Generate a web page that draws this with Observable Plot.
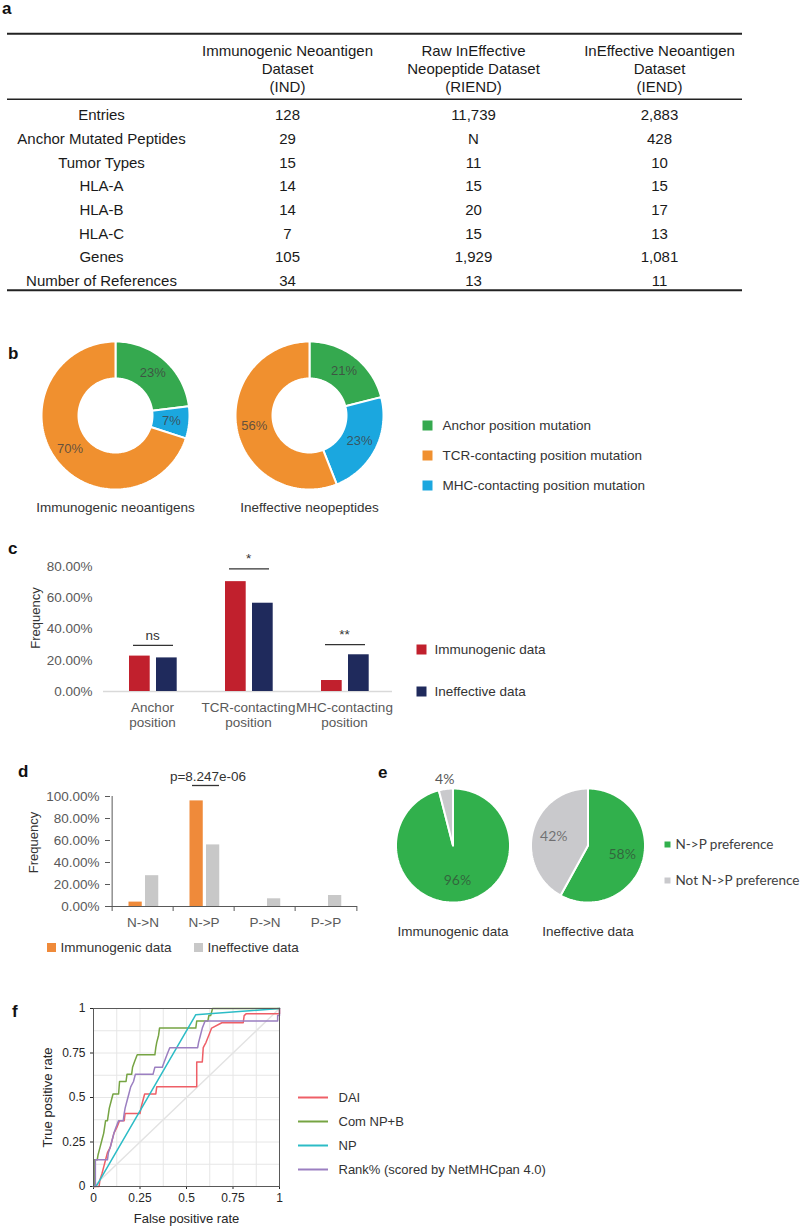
<!DOCTYPE html>
<html>
<head>
<meta charset="utf-8">
<script src="https://cdn.jsdelivr.net/npm/d3@7"></script>
<script src="https://cdn.jsdelivr.net/npm/@observablehq/plot@0.6"></script>
<style>
  html,body{margin:0;padding:0;background:#fff;}
  #root{position:relative;width:800px;height:1228px;overflow:hidden;background:#fff;}
  .letter{position:absolute;font-family:"Liberation Sans",Arial,sans-serif;font-weight:bold;font-size:17px;line-height:20px;color:#111;}
</style>
</head>
<body>
<div id="root"></div>
<script>
// ================= DATA =================
// (a) table
const tableColumns = ["Immunogenic Neoantigen\nDataset\n(IND)", "Raw InEffective\nNeopeptide Dataset\n(RIEND)", "InEffective Neoantigen\nDataset\n(IEND)"];
const tableRows = ["Entries","Anchor Mutated Peptides","Tumor Types","HLA-A","HLA-B","HLA-C","Genes","Number of References"];
const colIND   = ["128","29","15","14","14","7","105","34"];
const colRIEND = ["11,739","N","11","15","20","15","1,929","13"];
const colIEND  = ["2,883","428","10","15","17","13","1,081","11"];

// (b) donuts
const mutationTypes = ["Anchor position mutation","TCR-contacting position mutation","MHC-contacting position mutation"];
const mutationColors = ["#35a94f","#f0902f","#1ba7df"];
const donutDatasets = ["Immunogenic neoantigens","Ineffective neopeptides"];
const donutImmunogenic = [23, 70, 7];   // anchor, TCR, MHC
const donutIneffective = [21, 56, 23];
const donutOrder = [0, 2, 1];           // clockwise from 12 o'clock: anchor, MHC, TCR

// (c) grouped bars
const positionCats = ["Anchor\nposition","TCR-contacting\nposition","MHC-contacting\nposition"];
const cSeries = ["Immunogenic data","Ineffective data"];
const cColors = ["#c1202d","#1f2a5c"];
const freqImmunogenic = [0.2266, 0.7031, 0.0703];
const freqIneffective = [0.215, 0.565, 0.235];
const sigLabels = ["ns","*","**"];
const sigLevels = [0.295, 0.785, 0.30];
const yTicksC = [0, 0.2, 0.4, 0.6, 0.8];

// (d) transitions
const transitionCats = ["N->N","N->P","P->N","P->P"];
const dSeries = ["Immunogenic data","Ineffective data"];
const dColors = ["#ef8a3a","#c8c8c8"];
const transImmunogenic = [0.04, 0.96, 0, 0];
const transIneffective = [0.28, 0.56, 0.07, 0.10];
const pValueCat = "N->P";
const pValueText = "p=8.247e-06";
const pValueLevel = 1.10;
const yTicksD = [0, 0.2, 0.4, 0.6, 0.8, 1.0];

// (e) pies
const prefCats = ["N->P preference","Not N->P preference"];
const prefColors = ["#31b04c","#c9c9cc"];
const prefDatasets = ["Immunogenic data","Ineffective data"];
const prefImmunogenic = [96, 4];
const prefIneffective = [58, 42];

// (f) ROC
const rocModels = ["DAI","Com NP+B","NP","Rank% (scored by NetMHCpan 4.0)"];
const rocColors = ["#ee5f67","#76a443","#2cbcc6","#9b7fc1"];
const rocDAI = [[0,0],[0.03,0],[0.035,0.04],[0.045,0.07],[0.055,0.11],[0.065,0.15],[0.075,0.19],[0.09,0.22],[0.1,0.26],[0.11,0.3],[0.125,0.33],[0.14,0.37],[0.165,0.37],[0.17,0.41],[0.25,0.41],[0.255,0.44],[0.265,0.48],[0.275,0.52],[0.335,0.52],[0.34,0.56],[0.555,0.56],[0.555,0.7],[0.585,0.7],[0.59,0.78],[0.605,0.81],[0.62,0.85],[0.635,0.89],[0.69,0.92],[0.805,0.92],[0.81,0.96],[0.82,0.97],[1,0.97],[1,1]];
const rocComNPB = [[0,0],[0.005,0],[0.005,0.15],[0.02,0.15],[0.025,0.18],[0.035,0.22],[0.045,0.26],[0.055,0.3],[0.065,0.37],[0.075,0.37],[0.085,0.44],[0.095,0.48],[0.105,0.52],[0.135,0.52],[0.14,0.59],[0.175,0.59],[0.18,0.63],[0.205,0.63],[0.21,0.67],[0.22,0.7],[0.235,0.74],[0.33,0.74],[0.335,0.78],[0.34,0.81],[0.35,0.85],[0.355,0.89],[0.55,0.89],[0.555,0.93],[0.615,0.93],[0.62,0.96],[0.63,0.96],[0.64,1],[1,1]];
const rocNP = [[0,0],[0.02,0.01],[0.55,0.965],[1,1]];
const rocRank = [[0,0],[0.01,0],[0.01,0.15],[0.075,0.15],[0.08,0.19],[0.09,0.22],[0.1,0.26],[0.11,0.3],[0.12,0.33],[0.135,0.37],[0.16,0.37],[0.165,0.41],[0.17,0.44],[0.18,0.48],[0.19,0.52],[0.2,0.56],[0.215,0.59],[0.225,0.63],[0.32,0.63],[0.33,0.67],[0.37,0.67],[0.38,0.7],[0.395,0.74],[0.41,0.78],[0.56,0.78],[0.565,0.81],[0.575,0.85],[0.585,0.89],[0.6,0.93],[0.99,0.93],[0.99,0.96],[1,0.96],[1,1]];
const rocTicks = [0, 0.25, 0.5, 0.75, 1];
const rocGrid = [0.125, 0.25, 0.375, 0.5, 0.625, 0.75, 0.875];
const chanceLine = [[0,0],[1,1]];

// ================= HELPERS =================
const FN = '"Liberation Sans Narrow","Liberation Sans",Arial,sans-serif';
const FA = '"Liberation Sans",Arial,sans-serif';
const FC = 'Lato,"Open Sans",sans-serif';
const FS = 13.5; // general label size
const root = document.getElementById("root");
function put(node, left, top){ node.style.position="absolute"; node.style.left=left+"px"; node.style.top=top+"px"; node.style.maxWidth="none"; root.appendChild(node); }
function letter(t, x, y){ const d=document.createElement("div"); d.className="letter"; d.textContent=t; d.style.left=x+"px"; d.style.top=(y-11)+"px"; root.appendChild(d); }
function st(fontFamily, fontSize, color){ return {fontFamily, fontSize: fontSize+"px", color: color, background:"transparent", overflow:"visible", maxWidth:"none"}; }
const pct = d => (d*100).toFixed(2) + "%";

function pieGeometry(dataset, values, types, order, inner, labelR, outsideR, smallFrac){
  const total = d3.sum(values); let acc = 0; const poly = [], labels = [];
  for (const k of order) {
    const a0 = acc/total*2*Math.PI; acc += values[k]; const a1 = acc/total*2*Math.PI;
    const n = Math.max(2, Math.ceil((a1-a0)/(Math.PI/120)));
    const key = dataset + "|" + types[k];
    for (let j=0;j<=n;j++){ const a=a0+(a1-a0)*j/n; poly.push({dataset, type:types[k], key, x:Math.sin(a), y:Math.cos(a)}); }
    if (inner > 0) { for (let j=n;j>=0;j--){ const a=a0+(a1-a0)*j/n; poly.push({dataset, type:types[k], key, x:inner*Math.sin(a), y:inner*Math.cos(a)}); } }
    else poly.push({dataset, type:types[k], key, x:0, y:0});
    const am = (a0+a1)/2, frac = values[k]/total;
    const outside = inner === 0 && frac < smallFrac;
    const r = outside ? outsideR : labelR;
    labels.push({dataset, type:types[k], x:r*Math.sin(am), y:r*Math.cos(am), text: values[k]+"%", outside});
  }
  return {poly, labels};
}

function squareLegendV({items, colors, x, top, ys, height, side, textDx, font, size, color}){
  put(Plot.plot({
    width: x + 200, height, marginLeft: x, marginRight: 0, marginTop: 0, marginBottom: 0,
    y: {type:"point", domain: items, range: ys, padding: 0, axis: null},
    color: {domain: items, range: colors},
    style: st(font, size, color),
    marks: [
      Plot.dot(items, {y: d=>d, frameAnchor:"left", symbol:"square", r: side/Math.sqrt(Math.PI), fill: d=>d}),
      Plot.text(items, {y: d=>d, frameAnchor:"left", dx: textDx, textAnchor:"start", lineAnchor:"middle", text: d=>d, fill: color})
    ]
  }), 0, top);
}
function squareLegendH({items, colors, xs, top, height, side, textDx, font, size, color}){
  put(Plot.plot({
    width: 400, height, marginLeft: 0, marginRight: 0, marginTop: 0, marginBottom: 0,
    x: {type:"point", domain: items, range: xs, padding: 0, axis: null},
    color: {domain: items, range: colors},
    style: st(font, size, color),
    marks: [
      Plot.dot(items, {x: d=>d, frameAnchor:"middle", symbol:"square", r: side/Math.sqrt(Math.PI), fill: d=>d}),
      Plot.text(items, {x: d=>d, frameAnchor:"middle", dx: textDx, textAnchor:"start", lineAnchor:"middle", text: d=>d, fill: color})
    ]
  }), 0, top);
}

// ================= (a) TABLE =================
letter("a", 2, 10);
const colKeys = ["label","IND","RIEND","IEND"];
const HEADER_ROW = -2, TOP_RULE = -3.45, HEAD_RULE = -0.68, BOTTOM_RULE = tableRows.length - 0.62;
const cellRows = tableRows.flatMap((r,i)=>[
  {col:"label", i, text:r}, {col:"IND", i, text:colIND[i]}, {col:"RIEND", i, text:colRIEND[i]}, {col:"IEND", i, text:colIEND[i]}
]);
const headerCells = tableColumns.map((t,k)=>({col: colKeys[k+1], i: HEADER_ROW, text: t}));
const tableRules = [{i: TOP_RULE, w: 2}, {i: HEAD_RULE, w: 1.5}, {i: BOTTOM_RULE, w: 2}];
put(Plot.plot({
  width: 800, height: 300, marginLeft: 7, marginRight: 58, marginTop: 32, marginBottom: 7.3,
  x: {type:"point", domain: colKeys, range: [100, 660], padding: 0, axis: null},
  y: {domain: [-3.5, 7.5], range: [32, 292.7], axis: null},
  style: st(FN, 15, "#1a1a1a"),
  marks: [
    Plot.ruleY(tableRules, {y: "i", strokeWidth: "w", stroke: "#222"}),
    Plot.text(headerCells, {x:"col", y:"i", text:"text", lineHeight: 1.23, fill:"#1a1a1a"}),
    Plot.text(cellRows, {x:"col", y:"i", text:"text", fill:"#1a1a1a"})
  ]
}), 0, 0);

// ================= (b) DONUTS =================
letter("b", 8, 355);
const bGeo = [
  pieGeometry(donutDatasets[0], donutImmunogenic, mutationTypes, donutOrder, 0.5, 0.76, 1.16, 0.05),
  pieGeometry(donutDatasets[1], donutIneffective, mutationTypes, donutOrder, 0.5, 0.76, 1.16, 0.05)
];
put(Plot.plot({
  width: 406, height: 228, marginLeft: 18, marginRight: 0, marginTop: 18.8, marginBottom: 30.12,
  fx: {domain: donutDatasets, padding: 0, axis: null},
  x: {domain: [-1.311, 1.311], axis: null},
  y: {domain: [-1.12, 1.3], axis: null},
  color: {domain: mutationTypes, range: mutationColors},
  style: st(FN, FS, "#333"),
  marks: [
    Plot.line(bGeo.flatMap(g=>g.poly), {fx:"dataset", x:"x", y:"y", z:"key", fill:"type", stroke:"#fff", strokeWidth:2, curve:"linear-closed"}),
    Plot.text(bGeo.flatMap(g=>g.labels), {fx:"dataset", x:"x", y:"y", text:"text", fill:"#404040", fillOpacity:0.8, fontSize:13}),
    Plot.text(donutDatasets, {fx: d=>d, frameAnchor:"bottom", lineAnchor:"middle", dy: 9.1, text: d=>d, fill:"#333", fontSize:FS})
  ]
}), 0, 300);
squareLegendV({items: mutationTypes, colors: mutationColors, x: 427, top: 400, ys: [24, 85], height: 110, side: 10, textDx: 15, font: FN, size: FS, color: "#333"});

// ================= (c) GROUPED BARS =================
letter("c", 8, 550);
const cRows = positionCats.flatMap((c,i)=>[{cat:c, series:cSeries[0], value:freqImmunogenic[i]}, {cat:c, series:cSeries[1], value:freqIneffective[i]}]);
const cSig = positionCats.map((c,i)=>({cat:c, level:sigLevels[i], text:sigLabels[i]}));
put(Plot.plot({
  width: 400, height: 200, marginLeft: 103, marginRight: 8, marginTop: 26, marginBottom: 49,
  x: {domain: positionCats, padding: 0, axis: null},
  y: {domain: [0, 0.8], ticks: yTicksC, tickFormat: pct, tickSize: 0, tickPadding: 11, label: null},
  color: {domain: cSeries, range: cColors},
  style: st(FN, FS, "#595959"),
  marks: [
    Plot.ruleY([0], {stroke:"#d9d9d9", strokeWidth:1.5}),
    Plot.barY(cRows.filter(d=>d.series===cSeries[0]), {x:"cat", y:"value", fill:"series", insetLeft:25, insetRight:50.3}),
    Plot.barY(cRows.filter(d=>d.series===cSeries[1]), {x:"cat", y:"value", fill:"series", insetLeft:52, insetRight:23.3}),
    Plot.tickY(cSig, {x:"cat", y:"level", stroke:"#333", strokeWidth:1.3, insetLeft:29, insetRight:27}),
    Plot.text(cSig, {x:"cat", y:"level", text:"text", dy:-10, fill:"#333", fontSize:FS}),
    Plot.text(positionCats, {x:d=>d, frameAnchor:"bottom", lineAnchor:"middle", dy:23, lineHeight:1.15, text:d=>d, fill:"#595959", fontSize:FS}),
    Plot.text(["Frequency"], {frameAnchor:"left", textAnchor:"middle", lineAnchor:"middle", dx:-68, dy:-11, rotate:-90, text:d=>d, fill:"#333", fontFamily:FA, fontSize:13})
  ]
}), 0, 540);
squareLegendV({items: cSeries, colors: cColors, x: 421, top: 620, ys: [29, 71], height: 100, side: 10, textDx: 13, font: FN, size: FS, color: "#333"});

// ================= (d) TRANSITIONS =================
letter("d", 18, 773);
const dRows = transitionCats.flatMap((c,i)=>[{cat:c, series:dSeries[0], value:transImmunogenic[i]}, {cat:c, series:dSeries[1], value:transIneffective[i]}]);
const pAnn = [{cat: pValueCat, level: pValueLevel, text: pValueText}];
const dW = 400, dML = 110, dMR = 43, dMT = 36, dMB = 34, dH = 180;
const dBand = (dW - dML - dMR) / transitionCats.length;
const dFrameH = dH - dMT - dMB;
put(Plot.plot({
  width: dW, height: dH, marginLeft: dML, marginRight: dMR, marginTop: dMT, marginBottom: dMB,
  x: {domain: transitionCats, padding: 0, axis: null},
  y: {domain: [0, 1], ticks: yTicksD, tickFormat: pct, tickSize: 5, tickPadding: 6, label: null},
  color: {domain: dSeries, range: dColors},
  style: st(FN, FS, "#595959"),
  marks: [
    Plot.barY(dRows.filter(d=>d.series===dSeries[0]), {x:"cat", y:"value", fill:"series", insetLeft:16.5, insetRight:31.25}),
    Plot.barY(dRows.filter(d=>d.series===dSeries[1]), {x:"cat", y:"value", fill:"series", insetLeft:33, insetRight:14.75}),
    Plot.ruleY([0], {stroke:"#595959"}),
    Plot.ruleX([transitionCats[0]], {x:d=>d, dx:-dBand/2, stroke:"#595959"}),
    Plot.ruleX(transitionCats, {x:d=>d, dx:-dBand/2, insetTop:dFrameH, insetBottom:-5, stroke:"#595959"}),
    Plot.ruleX([transitionCats[transitionCats.length-1]], {x:d=>d, dx:dBand/2, insetTop:dFrameH, insetBottom:-5, stroke:"#595959"}),
    Plot.tickY(pAnn, {x:"cat", y:"level", insetLeft:19, insetRight:15, stroke:"#333", strokeWidth:1.3}),
    Plot.text(pAnn, {x:"cat", y:"level", text:"text", dx:4, dy:-9, fill:"#333", fontSize:FS}),
    Plot.text(transitionCats, {x:d=>d, frameAnchor:"bottom", lineAnchor:"middle", dy:16, text:d=>d, fill:"#595959", fontSize:FS}),
    Plot.text(["Frequency"], {frameAnchor:"left", textAnchor:"middle", lineAnchor:"middle", dx:-77, dy:-9, rotate:-90, text:d=>d, fill:"#333", fontFamily:FA, fontSize:13})
  ]
}), 0, 760);
squareLegendH({items: dSeries, colors: dColors, xs: [51, 198], top: 935, height: 24, side: 9, textDx: 9, font: FN, size: FS, color: "#333"});

// ================= (e) PIES =================
letter("e", 378, 774);
const eGeo = [
  pieGeometry(prefDatasets[0], prefImmunogenic, prefCats, [0,1], 0, 0.62, 1.16, 0.08),
  pieGeometry(prefDatasets[1], prefIneffective, prefCats, [0,1], 0, 0.62, 1.16, 0.08)
];
const eLabels = eGeo.flatMap(g=>g.labels);
put(Plot.plot({
  width: 654.5, height: 189, marginLeft: 384.5, marginRight: 0, marginTop: 8.05, marginBottom: 40.15,
  fx: {domain: prefDatasets, padding: 0, axis: null},
  x: {domain: [-1.184, 1.184], axis: null},
  y: {domain: [-1.12, 1.35], axis: null},
  color: {domain: prefCats, range: prefColors},
  style: st(FN, FS, "#333"),
  marks: [
    Plot.line(eGeo.flatMap(g=>g.poly), {fx:"dataset", x:"x", y:"y", z:"key", fill:"type", stroke:"#fff", strokeWidth:2, curve:"linear-closed"}),
    Plot.text(eLabels.filter(d=>!d.outside), {fx:"dataset", x:"x", y:"y", text:"text", fill:"#333", fillOpacity:0.6, fontFamily:FC, fontSize:14}),
    Plot.text(eLabels.filter(d=>d.outside), {fx:"dataset", x:"x", y:"y", text:"text", fill:"#595959", fontFamily:FC, fontSize:14}),
    Plot.text(prefDatasets, {fx:d=>d, frameAnchor:"bottom", lineAnchor:"middle", dy:22, text:d=>d, fill:"#333", fontSize:FS})
  ]
}), 0, 760);
squareLegendV({items: prefCats, colors: prefColors, x: 667, top: 830, ys: [14, 50], height: 70, side: 6, textDx: 8, font: FC, size: 13.5, color: "#404040"});

// ================= (f) ROC =================
letter("f", 12, 1013);
const rocSeries = [rocDAI, rocComNPB, rocNP, rocRank];
const rocRows = rocModels.flatMap((m,k)=>rocSeries[k].map(([fpr,tpr])=>({model:m, fpr, tpr})));
put(Plot.plot({
  width: 300, height: 238, marginLeft: 93, marginRight: 21, marginTop: 18, marginBottom: 42,
  x: {domain: [0,1], ticks: rocTicks, tickFormat: d=>String(d), tickSize: 3, tickPadding: 4, label: null},
  y: {domain: [0,1], ticks: rocTicks, tickFormat: d=>String(d), tickSize: 3, tickPadding: 5, label: null},
  color: {domain: rocModels, range: rocColors},
  style: st(FA, 12, "#262626"),
  marks: [
    Plot.ruleX(rocGrid, {stroke:"#e6e6e6"}),
    Plot.ruleY(rocGrid, {stroke:"#e6e6e6"}),
    Plot.line(chanceLine, {x:d=>d[0], y:d=>d[1], stroke:"#e3e3e3"}),
    Plot.line(rocRows, {x:"fpr", y:"tpr", z:"model", stroke:"model", strokeWidth:1.5}),
    Plot.frame({stroke:"#595959"}),
    Plot.text(["False positive rate"], {frameAnchor:"bottom", lineAnchor:"middle", dy:32, text:d=>d, fill:"#262626", fontSize:13}),
    Plot.text(["True positive rate"], {frameAnchor:"left", textAnchor:"middle", lineAnchor:"middle", dx:-46, rotate:-90, text:d=>d, fill:"#262626", fontSize:13})
  ]
}), 0, 990);
put(Plot.plot({
  width: 500, height: 110, marginLeft: 298, marginRight: 172, marginTop: 0, marginBottom: 0,
  y: {type:"point", domain: rocModels, range: [17, 89], padding: 0, axis: null},
  color: {domain: rocModels, range: rocColors},
  style: st(FA, 13, "#333"),
  marks: [
    Plot.tickY(rocModels, {y:d=>d, stroke:d=>d, strokeWidth:2}),
    Plot.text(rocModels, {y:d=>d, frameAnchor:"right", dx:10, textAnchor:"start", lineAnchor:"middle", text:d=>d, fill:"#333"})
  ]
}), 0, 1080);
</script>
</body>
</html>
